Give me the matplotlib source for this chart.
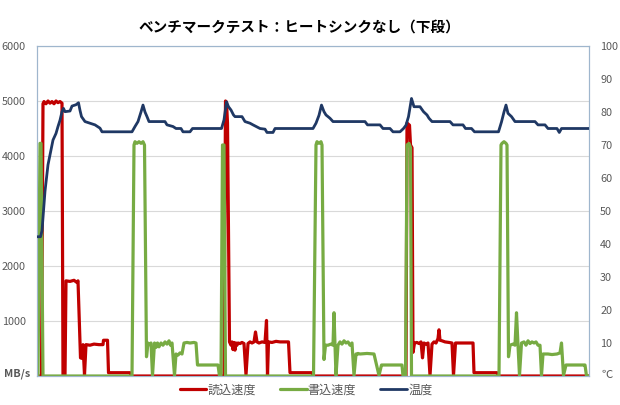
import matplotlib
matplotlib.use("Agg")
import matplotlib.pyplot as plt

plt.rcParams['font.family'] = ['Noto Sans CJK JP', 'DejaVu Sans']

title = "ベンチマークテスト：ヒートシンクなし（下段）"
series_names = ["読込速度", "書込速度", "温度"]

# --- read speed (MB/s): time (s) / value ---
read_t = [0, 4.5, 6, 7, 9, 11, 13, 15, 17, 19, 21, 23, 25, 26, 28, 29, 33, 37, 40, 41, 43.5, 45, 46, 47.5, 49,
          53, 57, 62, 66, 66.5, 70.5, 71.5, 93, 94,
          187, 188.5, 189.5, 190.5, 192.5, 194, 195, 196, 197, 198, 199, 200, 201, 203, 205, 207, 209, 211, 213,
          215, 217, 218.5, 220, 222, 225, 228, 229.5, 230.5, 231.5, 235, 239, 243, 247, 251.5, 253, 275, 276,
          367, 369, 370, 372.5, 373.5, 375, 376, 377.5, 380, 382, 384, 385.5, 387, 389, 391, 393, 395, 397, 399,
          401, 402, 403, 405, 408, 412, 415, 416.5, 418.5, 423, 429, 436, 437, 460, 461, 552]
read_v = [0, 0, 4950, 4990, 4950, 5000, 4960, 4990, 4950, 5000, 4970, 4990, 4960, 0, 0, 1730, 1720, 1740, 1700,
          1730, 330, 320, 570, 20, 570, 560, 580, 570, 570, 650, 650, 60, 60, 0,
          0, 5000, 4980, 4600, 620, 560, 620, 480, 610, 470, 600, 560, 600, 590, 610, 590, 20, 590, 620,
          600, 620, 800, 620, 600, 620, 610, 1010, 10, 620, 610, 630, 620, 620, 620, 60, 60, 0,
          0, 0, 4600, 4560, 4200, 4150, 430, 600, 610, 590, 620, 330, 600, 580, 600, 10, 580, 620, 600, 680,
          840, 650, 640, 620, 610, 600, 10, 600, 600, 600, 600, 60, 60, 0, 0]

# --- write speed (MB/s) ---
write_t = [0, 1, 3, 4, 6, 95, 97, 98, 100, 102, 104, 106, 107.5, 109.5, 111, 113, 114, 115.5, 117.5, 119, 120.5,
           122, 124, 126, 128, 130, 132, 133.5, 135, 137.5, 139, 141, 143, 145, 147, 150, 153, 157, 159, 160.5,
           168, 175, 181, 182.5, 184, 185.5, 187, 188.5, 276.5, 279, 280, 282, 284, 285, 287, 288.5, 291, 294,
           296, 297, 298, 299, 301, 303, 305, 307, 309, 311, 313, 315, 317, 319, 320, 321, 323, 330, 337, 342,
           344.5, 346, 353, 360, 365, 366, 368.5, 370, 372, 373.5, 374.5, 462, 464, 465, 467, 469, 470, 471.5,
           473, 476, 478, 479.5, 481, 482.5, 484.5, 487, 489, 491, 493, 495, 497, 499, 501, 503, 504.5, 506,
           511, 515, 520, 523, 524.5, 526.5, 529, 538, 546, 548, 549.5, 552]
write_v = [0, 0, 4230, 4230, 0, 0, 4200, 4260, 4230, 4260, 4230, 4260, 4200, 350, 600, 570, 600, 10, 600, 520,
           600, 530, 600, 560, 620, 580, 640, 560, 600, 10, 400, 380, 420, 400, 600, 610, 600, 610, 600, 200,
           200, 200, 200, 0, 0, 4200, 4200, 0, 0, 4200, 4260, 4230, 4260, 4200, 300, 560, 560, 580, 560, 1150,
           560, 10, 560, 620, 580, 640, 600, 620, 560, 600, 10, 400, 390, 410, 400, 410, 400, 10, 200, 200, 200,
           200, 200, 0, 0, 4200, 4230, 4150, 0, 0, 4200, 4230, 4260, 4230, 4200, 350, 560, 580, 560, 1150, 560,
           10, 600, 620, 560, 640, 590, 620, 600, 620, 560, 560, 10, 400, 400, 390, 400, 420, 600, 10, 200,
           200, 200, 200, 0, 0]

# --- temperature (°C) ---
temp_t = [0.5, 3.5, 5, 8, 11, 13, 16, 19, 21, 23, 25, 26.5, 28, 33, 35, 39, 41.5, 43, 44.5, 48, 53, 58, 63, 65,
          95, 98, 101, 104, 106, 108, 110, 112, 128, 130, 136, 139, 144, 146, 153, 155.5, 184.5, 187, 189.5,
          191.5, 194, 196.5, 198, 205, 208, 213, 216, 223, 228, 230, 236, 238, 276, 279, 282, 284.5, 287, 289,
          293, 296, 328, 330.5, 343, 346, 353, 356, 363, 366.5, 369, 371.5, 374.5, 377, 383, 386.5, 390, 392,
          395, 413, 416, 426, 428.5, 434.5, 437.5, 461.5, 464.5, 467, 469, 471, 474.5, 478, 498, 501, 508,
          511, 520, 522.3, 524.5, 552]
temp_v = [42.2, 42.2, 44, 56, 64, 67, 71.5, 73.5, 75.6, 77.5, 80.1, 81.1, 80.1, 80.3, 81.8, 82.2, 82.8, 80.5,
          78.6, 77.1, 76.6, 76.1, 75.1, 74.0, 74.0, 75.6, 77.1, 80.0, 82.1, 80.0, 78.6, 77.1, 77.1, 76.1, 75.6,
          75.0, 75.0, 74.0, 74.0, 75.0, 75.0, 77.6, 83.1, 81.6, 80.6, 79.1, 78.6, 78.6, 77.1, 76.6, 76.1, 75.0,
          74.8, 73.8, 73.8, 75.0, 75.0, 76.6, 79.0, 82.1, 80.1, 79.1, 78.1, 77.1, 77.1, 76.1, 76.1, 75.0, 75.0,
          74.0, 74.0, 75.0, 76.0, 78.6, 84.1, 81.6, 81.6, 80.1, 79.1, 78.1, 77.1, 77.1, 76.1, 76.1, 75.0, 75.0,
          74.0, 74.0, 77.0, 80.0, 82.1, 79.6, 78.6, 77.1, 77.1, 76.1, 76.1, 75.0, 75.0, 73.8, 75.0, 75.0]

speed_ticks = [1000, 2000, 3000, 4000, 5000, 6000]
speed_labels = ["1000", "2000", "3000", "4000", "5000", "6000"]
speed_unit = "MB/s"
temp_ticks = [10, 20, 30, 40, 50, 60, 70, 80, 90, 100]
temp_labels = ["10", "20", "30", "40", "50", "60", "70", "80", "90", "100"]
temp_unit = "℃"

c_read = "#C00000"
c_write = "#77AB43"
c_temp = "#1F3864"
c_text = "#595959"
c_frame = "#9FB6CD"

fig = plt.figure(figsize=(6.2, 4.05), dpi=100)
ax = fig.add_axes([37/620, 1-376/405, (589-37)/620, (376-46)/405])
ax2 = ax.twinx()

l1, = ax.plot(read_t, read_v, color=c_read, lw=2.3, solid_joinstyle='round', solid_capstyle='round', zorder=3)
l2, = ax.plot(write_t, write_v, color=c_write, lw=2.3, solid_joinstyle='round', solid_capstyle='round', zorder=4)
l3, = ax2.plot(temp_t, temp_v, color=c_temp, lw=2.0, solid_joinstyle='round', solid_capstyle='round', zorder=5)

ax.set_xlim(0, 552)
ax.set_ylim(0, 6000)
ax2.set_ylim(0, 100)
ax.set_xticks([])
ax.set_yticks([0] + speed_ticks)
ax.set_yticklabels([""] + speed_labels)
ax2.set_yticks(temp_ticks)
ax2.set_yticklabels(temp_labels)
ax.tick_params(axis='y', length=0, pad=8, labelsize=7.8, labelcolor=c_text)
ax2.tick_params(axis='y', length=0, pad=8, labelsize=7.8, labelcolor=c_text)
ax.grid(axis='y', color="#D9D9D9", lw=0.8)
ax.set_axisbelow(True)
for a in (ax, ax2):
    for s in a.spines.values():
        s.set_color(c_frame)
        s.set_linewidth(0.8)

# unit labels at the zero positions
fig.text(30/620, 1-374/405, speed_unit, ha='right', va='center', fontsize=7.8, color=c_text, fontweight='bold')
fig.text(601/620, 1-375/405, temp_unit, ha='left', va='center', fontsize=8.2, color=c_text)

fig.text(299/620, 1-27/405, title, ha='center', va='center', fontsize=10.5, fontweight='bold', color='black')

fig.legend([l1, l2, l3], series_names, loc='center', bbox_to_anchor=(306/620, 1-390/405), ncol=3,
           frameon=False, fontsize=8.7, handlelength=2.2, handletextpad=0.1, columnspacing=2.0,
           labelcolor=c_text)

fig.savefig("out.png", dpi=100)
